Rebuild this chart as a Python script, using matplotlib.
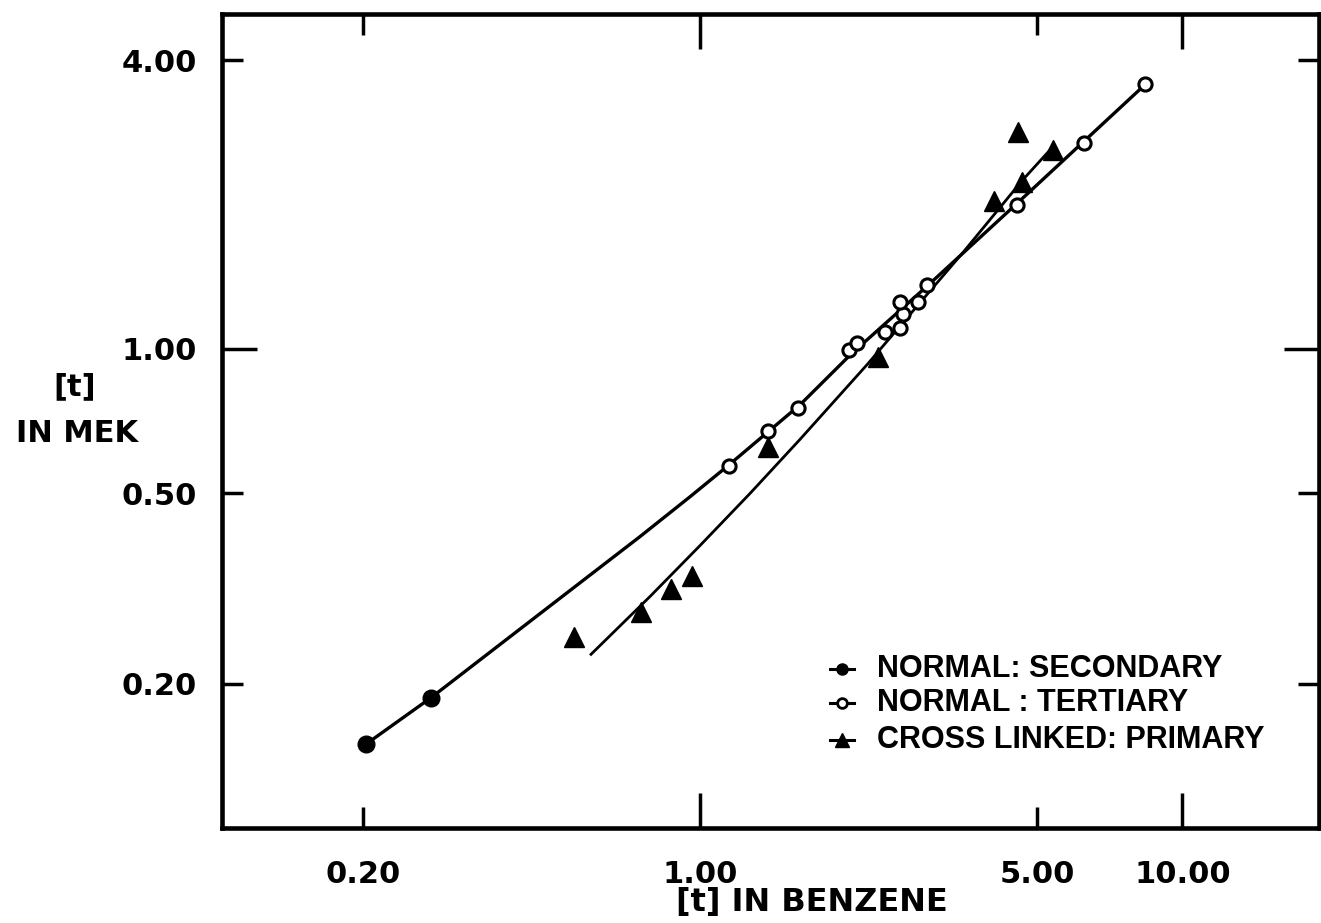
import matplotlib.pyplot as plt
from matplotlib.lines import Line2D

# intrinsic viscosity [t] : benzene vs MEK
secondary_x = [0.203, 0.277]
secondary_y = [0.150, 0.187]

tertiary_x = [1.148, 1.384, 1.597, 2.04, 2.12, 2.42, 2.60, 2.64, 2.60, 2.83, 2.96, 4.53, 6.26, 8.38]
tertiary_y = [0.570, 0.675, 0.753, 0.995, 1.03, 1.085, 1.106, 1.18, 1.25, 1.25, 1.36, 2.00, 2.69, 3.57]

primary_x = [0.548, 0.755, 0.869, 0.962, 1.384, 2.34, 4.07, 4.66, 4.57, 5.40]
primary_y = [0.251, 0.283, 0.316, 0.335, 0.625, 0.962, 2.04, 2.23, 2.83, 2.60]

# hand-drawn trend curves
normal_curve_x = [0.2028, 0.2766, 0.3847, 0.5375, 0.7507, 0.9534, 1.143, 1.612, 2.048, 2.958, 4.524, 8.380]
normal_curve_y = [0.1496, 0.1870, 0.2416, 0.3132, 0.4058, 0.4915, 0.5706, 0.7647, 0.9716, 1.353, 2.005, 3.566]

crosslinked_curve_x = [0.594, 0.7875, 1.0, 1.270, 1.612, 2.221, 3.513, 4.656, 5.401]
crosslinked_curve_y = [0.2304, 0.3043, 0.3888, 0.4996, 0.6477, 0.9279, 1.592, 2.247, 2.648]

x_major, x_major_labels = [1.0, 10.0], ['1.00', '10.00']
x_minor, x_minor_labels = [0.2, 5.0], ['0.20', '5.00']
y_major, y_major_labels = [1.0], ['1.00']
y_minor, y_minor_labels = [0.2, 0.5, 4.0], ['0.20', '0.50', '4.00']

legend_labels = ['NORMAL: SECONDARY', 'NORMAL : TERTIARY', 'CROSS LINKED: PRIMARY']

W, H = 1321, 923
fig = plt.figure(figsize=(W / 100, H / 100), dpi=100)
ax = fig.add_axes([222 / W, 1 - 828 / H, (1319 - 222) / W, (828 - 14) / H])
ax.set_xscale('log')
ax.set_yscale('log')
ax.set_xlim(0.102, 19.2)
ax.set_ylim(0.1, 5.0)

ax.plot(normal_curve_x, normal_curve_y, color='black', lw=2.4, zorder=2,
        solid_joinstyle='round')
ax.plot(crosslinked_curve_x, crosslinked_curve_y, color='black', lw=2.0, zorder=2,
        solid_joinstyle='round')

ax.plot(secondary_x, secondary_y, 'o', ms=12, color='black', zorder=3)
ax.plot(tertiary_x, tertiary_y, 'o', ms=9.5, mfc='white', mec='black', mew=2.2, zorder=3)
ax.plot(primary_x, primary_y, '^', ms=14, color='black', zorder=3)

for s in ax.spines.values():
    s.set_linewidth(3.3)

ax.set_xticks(x_major, x_major_labels)
ax.set_xticks(x_minor, x_minor_labels, minor=True)
ax.set_yticks(y_major, y_major_labels)
ax.set_yticks(y_minor, y_minor_labels, minor=True)

ax.tick_params(which='both', direction='in', top=True, right=True, width=2.5,
               labelsize=22, colors='black')
ax.tick_params(which='major', length=25)
ax.tick_params(which='minor', length=15)
ax.tick_params(axis='x', which='both', pad=23)
ax.tick_params(axis='y', which='both', pad=18)
for lab in ax.get_xticklabels(which='both') + ax.get_yticklabels(which='both'):
    lab.set_fontweight('bold')

# axis titles
fig.text(75 / W, 1 - 387 / H, '[t]', ha='center', va='center', fontsize=22, fontweight='bold')
fig.text(77 / W, 1 - 434 / H, 'IN MEK', ha='center', va='center', fontsize=22, fontweight='bold')
fig.text(676 / W, 1 - 903 / H, '[t] IN BENZENE', ha='left', va='center', fontsize=23, fontweight='bold')

# legend
styles = [dict(marker='o', ms=8, mfc='black', mec='black'),
          dict(marker='o', ms=7, mfc='white', mec='black', mew=2),
          dict(marker='^', ms=10, mfc='black', mec='black')]
rows = [669, 703, 740]
for label, st, yp in zip(legend_labels, styles, rows):
    yf = 1 - yp / H
    fig.add_artist(Line2D([830 / W, 842 / W, 854 / W], [yf, yf, yf], lw=2.2, color='black',
                          markevery=[1], **st))
    fig.text(877 / W, yf, label, ha='left', va='center', fontsize=22, fontweight='bold',
             family=['Liberation Sans', 'DejaVu Sans'])

fig.savefig('out.png', dpi=100, facecolor='white')
